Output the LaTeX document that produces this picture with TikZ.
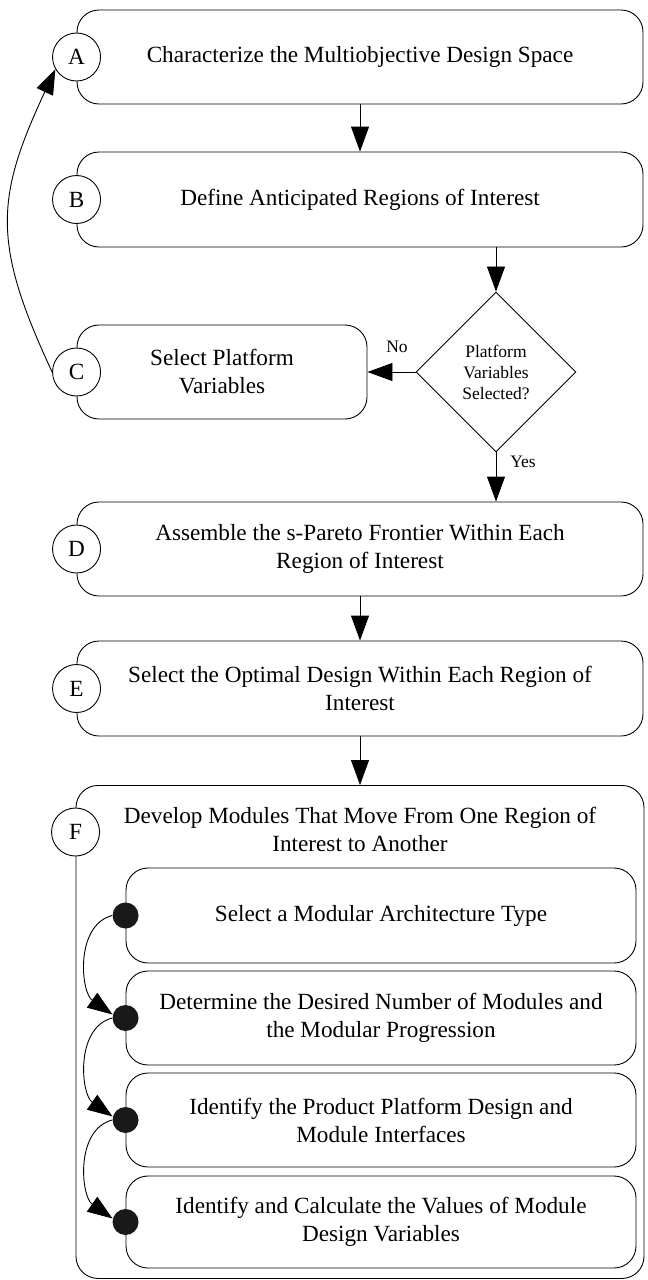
\documentclass[tikz,border=0pt]{standalone}
\usepackage{fontspec}
\setmainfont{Liberation Serif}
\usetikzlibrary{arrows.meta,shapes.geometric}

\begin{document}
\begin{tikzpicture}[x=1pt,y=1pt,line width=0.9pt,
  >={Triangle[length=25pt,width=18pt]},
  stepbox/.style={draw,rounded corners=22pt,align=center,inner sep=0pt,
    font=\fontsize{23.2}{28}\selectfont},
  lettercircle/.style={draw,circle,fill=white,minimum size=48pt,inner sep=0pt,
    font=\fontsize{23.2}{28}\selectfont},
  knob/.style={circle,fill=black!90,minimum size=26pt,inner sep=0pt},
  lbl/.style={font=\fontsize{17.5}{21}\selectfont}]
	\useasboundingbox (0,0) rectangle (648,-1280);
	% main steps
	\node[stepbox,minimum width=566pt,minimum height=94pt] (sA) at (360,-57) {Characterize the Multiobjective Design Space};
	\node[stepbox,minimum width=566pt,minimum height=95pt] (sB) at (360,-199.5) {Define Anticipated Regions of Interest};
	\node[stepbox,minimum width=290pt,minimum height=94pt] (sC) at (222,-372) {Select Platform\\Variables};
	\node[draw,diamond,minimum width=160pt,minimum height=160pt,inner sep=0pt,align=center,lbl] (q) at (496,-372) {Platform\\Variables\\Selected?};
	\node[stepbox,minimum width=566pt,minimum height=94pt] (sD) at (360,-549) {Assemble the s-Pareto Frontier Within Each\\Region of Interest};
	\node[stepbox,minimum width=566pt,minimum height=95pt] (sE) at (360,-688.5) {Select the Optimal Design Within Each Region of\\Interest};
	\node[stepbox,minimum width=568pt,minimum height=493pt,anchor=north] (sF) at (360,-785) {};
	\node[align=center,font=\fontsize{23.2}{28}\selectfont] (tF) at (360,-829) {Develop Modules That Move From One Region of\\Interest to Another};
	% sub steps of F
	\node[stepbox,minimum width=510pt,minimum height=95pt] (m1) at (381,-915.5) {Select a Modular Architecture Type};
	\node[stepbox,minimum width=510pt,minimum height=94pt] (m2) at (381,-1018) {Determine the Desired Number of Modules and\\the Modular Progression};
	\node[stepbox,minimum width=510pt,minimum height=94pt] (m3) at (381,-1120) {Identify the Product Platform Design and\\Module Interfaces};
	\node[stepbox,minimum width=510pt,minimum height=92pt] (m4) at (381,-1222) {Identify and Calculate the Values of Module\\Design Variables};
	% letters
	\node[lettercircle] (cA) at (sA.west) {A};
	\node[lettercircle] (cB) at (sB.west) {B};
	\node[lettercircle] (cC) at (sC.west) {C};
	\node[lettercircle] (cD) at (sD.west) {D};
	\node[lettercircle] (cE) at (sE.west) {E};
	\node[lettercircle] (cF) at (sF.west |- 0,-832) {F};
	\foreach \i in {1,...,4}
		\node[knob] (d\i) at (m\i.west) {};
	% labels
	\node[lbl] (lNo) at (397,-347) {No};
	\node[lbl] (lYes) at (523,-462) {Yes};
	% connectors
	\draw[->] (sA) -- (sB);
	\draw[->] (sB.south -| q) -- (q);
	\draw[->] (q) -- (sC);
	\draw[->] (q) -- (sD.north -| q);
	\draw[->] (sD) -- (sE);
	\draw[->] (sE) -- (sF);
	\draw[->] (cC.west) to[out=115,in=245,looseness=1.2] (cA.210);
	\foreach \i/\j in {1/2,2/3,3/4}
		\draw[->] (d\i.west) to[out=195,in=145] (d\j.165);
\end{tikzpicture}
\end{document}
